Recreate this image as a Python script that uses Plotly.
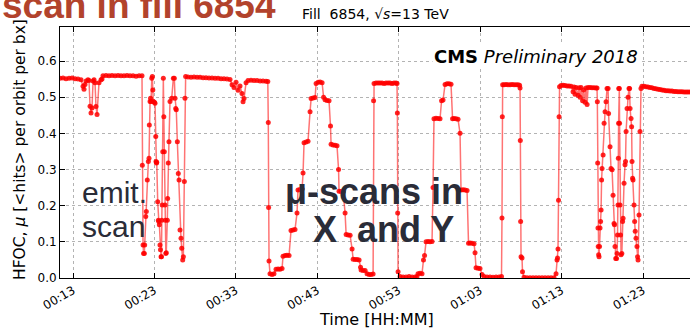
import plotly.graph_objects as go

# HFOC per-bunch pileup during fill 6854; time in minutes after 00:00
stable1_t = [11.40, 11.77, 12.14, 12.51, 12.88, 13.25, 13.61, 13.98, 14.23, 14.35,
             14.47, 14.60, 14.84, 14.96, 15.09, 15.21, 15.33, 15.46, 15.58, 15.70,
             15.82, 15.95, 16.19, 16.44, 16.56, 16.68, 17.05, 17.42, 17.79, 18.16,
             18.53, 18.89, 19.26, 19.63, 20.00, 20.37, 20.74, 21.11, 21.47]
stable1_mu = [0.552, 0.553, 0.551, 0.552, 0.553, 0.551, 0.550, 0.548, 0.530, 0.522,
              0.535, 0.545, 0.548, 0.546, 0.475, 0.456, 0.470, 0.545, 0.548, 0.540,
              0.474, 0.452, 0.540, 0.548, 0.550, 0.559, 0.560, 0.559, 0.560, 0.559,
              0.560, 0.559, 0.559, 0.560, 0.559, 0.559, 0.558, 0.559, 0.559]

emit1_t = [21.51, 21.60, 21.66, 21.76, 21.80, 21.93, 22.00, 22.12, 22.25, 22.33,
           22.37, 22.46, 22.52, 22.58, 22.67, 22.74, 22.80, 22.86, 23.00, 23.07,
           23.16, 23.19, 23.24, 23.28, 23.40, 23.48, 23.54, 23.60, 23.68, 23.74,
           23.81, 23.86, 23.89, 23.95, 24.02, 24.09, 24.15, 24.21, 24.30, 24.34,
           24.40, 24.45, 24.58, 24.62, 24.70, 24.78, 24.91, 25.12, 25.32, 25.44,
           25.53, 25.61, 25.68, 25.81, 25.93, 26.02, 26.14, 26.26, 26.35, 26.47,
           26.55, 26.67, 26.75, 26.83]
emit1_mu = [0.312, 0.091, 0.068, 0.068, 0.091, 0.170, 0.184, 0.271, 0.322, 0.331,
            0.423, 0.488, 0.497, 0.488, 0.552, 0.557, 0.520, 0.488, 0.486, 0.483,
            0.391, 0.322, 0.318, 0.320, 0.211, 0.160, 0.156, 0.147, 0.091, 0.078,
            0.059, 0.059, 0.160, 0.202, 0.349, 0.552, 0.446, 0.349, 0.202, 0.160,
            0.068, 0.070, 0.160, 0.220, 0.318, 0.377, 0.488, 0.497, 0.552, 0.552,
            0.497, 0.469, 0.465, 0.377, 0.289, 0.271, 0.133, 0.110, 0.082, 0.050,
            0.059, 0.267, 0.497, 0.557]

stable2_t = [27.12, 27.49, 27.86, 28.23, 28.60, 28.97, 29.33, 29.70, 30.07, 30.44,
             30.81, 31.18, 31.54, 31.91, 32.28, 32.53, 32.77, 33.02, 33.26, 33.51,
             33.75, 33.88, 34.00, 34.25, 34.49, 34.86, 35.23, 35.60, 35.97, 36.33,
             36.70, 36.92]
stable2_mu = [0.556, 0.555, 0.556, 0.555, 0.555, 0.554, 0.554, 0.553, 0.553, 0.552,
              0.552, 0.551, 0.551, 0.550, 0.549, 0.534, 0.527, 0.541, 0.519, 0.531,
              0.510, 0.487, 0.496, 0.540, 0.546, 0.547, 0.546, 0.546, 0.545, 0.545,
              0.544, 0.543]

scanx_t = [36.98, 37.02, 37.07, 37.19, 37.44, 37.68, 37.93, 38.18, 38.42, 38.67,
           38.79, 39.04, 39.28, 39.53, 39.77, 40.02, 40.26, 40.51, 40.63, 40.88,
           41.13, 41.25, 41.37, 41.62, 41.86, 42.11, 42.24, 42.48, 42.73, 42.85,
           43.10, 43.34, 43.59, 43.77, 43.95, 44.19, 44.44, 44.62, 44.69, 44.93,
           45.18, 45.42, 45.61, 45.67, 45.92, 46.17, 46.41, 46.54, 46.78, 47.03,
           47.27, 47.40, 47.64, 47.89, 48.13, 48.31, 48.38, 48.62, 48.87, 49.11,
           49.36, 49.60, 49.85]
scanx_mu = [0.430, 0.195, 0.047, 0.012, 0.010, 0.012, 0.024, 0.025, 0.024, 0.026,
            0.060, 0.062, 0.063, 0.062, 0.131, 0.133, 0.134, 0.180, 0.243, 0.245,
            0.246, 0.290, 0.374, 0.376, 0.378, 0.460, 0.496, 0.498, 0.499, 0.538,
            0.541, 0.542, 0.540, 0.500, 0.493, 0.491, 0.490, 0.420, 0.370, 0.368,
            0.367, 0.366, 0.300, 0.240, 0.239, 0.238, 0.180, 0.120, 0.119, 0.118,
            0.080, 0.052, 0.051, 0.051, 0.050, 0.030, 0.022, 0.021, 0.021, 0.012,
            0.010, 0.010, 0.011]

headon_t = [49.91, 49.97, 50.21, 50.46, 50.70, 50.95, 51.20, 51.44, 51.69, 51.93,
            52.18, 52.42, 52.67, 52.79, 52.83, 52.87, 52.92, 53.16, 53.53, 53.90,
            54.27, 54.64, 55.00, 55.24, 55.37, 55.61, 55.86]
headon_mu = [0.490, 0.538, 0.539, 0.539, 0.539, 0.539, 0.538, 0.539, 0.539, 0.539,
             0.538, 0.539, 0.539, 0.538, 0.456, 0.180, 0.017, 0.004, 0.003, 0.003,
             0.004, 0.003, 0.003, 0.004, 0.012, 0.013, 0.012]

scany_t = [56.04, 56.17, 56.35, 56.60, 56.84, 57.09, 57.21, 57.33, 57.58, 57.83,
           58.07, 58.26, 58.44, 58.69, 58.93, 59.18, 59.42, 59.61, 59.79, 60.04,
           60.28, 60.53, 60.65, 60.90, 61.14, 61.39, 61.57, 61.76, 62.00, 62.25,
           62.37, 62.49, 62.74, 62.98, 63.23, 63.47, 63.84, 64.21, 64.58, 64.95,
           65.32, 65.62]
scany_mu = [0.050, 0.062, 0.100, 0.101, 0.100, 0.101, 0.250, 0.440, 0.442, 0.441,
            0.440, 0.490, 0.492, 0.535, 0.537, 0.537, 0.536, 0.440, 0.441, 0.440,
            0.439, 0.400, 0.243, 0.244, 0.243, 0.242, 0.096, 0.097, 0.096, 0.095,
            0.070, 0.028, 0.027, 0.026, 0.010, 0.004, 0.003, 0.003, 0.002, 0.003,
            0.003, 0.004]

headon2_t = [65.68, 65.72, 65.76, 65.93, 66.18, 66.42, 66.67, 66.92, 67.16, 67.41,
             67.65, 67.84, 67.90, 67.93, 67.97, 68.02, 68.14, 68.20, 68.39, 68.75,
             69.12, 69.49, 69.86, 70.23, 70.60, 70.97, 71.34, 71.70, 72.07, 72.32,
             72.44, 72.50, 72.56, 72.62, 72.69, 72.75]
headon2_mu = [0.166, 0.446, 0.534, 0.534, 0.535, 0.534, 0.534, 0.535, 0.534, 0.534,
              0.534, 0.533, 0.525, 0.380, 0.156, 0.059, 0.055, 0.017, 0.002, 0.001,
              0.001, 0.001, 0.001, 0.001, 0.001, 0.001, 0.001, 0.001, 0.001, 0.012,
              0.050, 0.055, 0.080, 0.215, 0.446, 0.529]

stable3_t = [72.93, 73.18, 73.42, 73.67, 73.91, 74.16, 74.41, 74.53, 74.65, 74.78,
             75.02, 75.15, 75.27, 75.39, 75.58, 75.70, 75.88, 76.00, 76.13, 76.25,
             76.50, 76.74, 76.99, 77.23, 77.35]
stable3_mu = [0.532, 0.533, 0.532, 0.531, 0.531, 0.530, 0.515, 0.528, 0.508, 0.527,
              0.505, 0.526, 0.500, 0.527, 0.490, 0.520, 0.486, 0.525, 0.480, 0.527,
              0.527, 0.526, 0.526, 0.525, 0.525]

emit2_t = [77.39, 77.43, 77.47, 77.50, 77.55, 77.60, 77.66, 77.72, 77.79, 77.85,
           77.91, 77.97, 78.10, 78.22, 78.34, 78.46, 78.58, 78.71, 78.77, 78.95,
           79.07, 79.20, 79.32, 79.44, 79.50, 79.56, 79.65, 79.75, 79.81, 79.87,
           79.93, 79.97, 80.00, 80.02, 80.09, 80.12, 80.18, 80.24, 80.30, 80.40,
           80.49, 80.55, 80.67, 80.79, 80.85, 80.92, 81.04, 81.16, 81.28, 81.35,
           81.41, 81.53, 81.60, 81.65, 81.72, 81.77, 81.90, 81.97, 82.04, 82.14,
           82.26, 82.33, 82.39, 82.51, 82.63, 82.75]
emit2_mu = [0.487, 0.318, 0.138, 0.087, 0.064, 0.059, 0.087, 0.138, 0.156, 0.188,
            0.271, 0.303, 0.340, 0.428, 0.460, 0.487, 0.524, 0.524, 0.455, 0.363,
            0.303, 0.299, 0.229, 0.151, 0.147, 0.087, 0.054, 0.054, 0.068, 0.119,
            0.202, 0.331, 0.428, 0.524, 0.524, 0.428, 0.202, 0.119, 0.064, 0.068,
            0.156, 0.165, 0.262, 0.313, 0.322, 0.405, 0.469, 0.500, 0.524, 0.524,
            0.469, 0.441, 0.418, 0.322, 0.276, 0.271, 0.202, 0.156, 0.129, 0.110,
            0.087, 0.059, 0.050, 0.174, 0.405, 0.524]

stable4_t = [82.87, 83.12, 83.36, 83.61, 83.85, 84.10, 84.35, 84.59, 84.84, 85.08,
             85.33, 85.58, 85.82, 86.07, 86.31, 86.56, 86.81, 87.05, 87.30, 87.54,
             87.79, 88.03, 88.28, 88.52, 88.77, 89.01]
stable4_mu = [0.530, 0.530, 0.529, 0.528, 0.527, 0.526, 0.524, 0.523, 0.522, 0.521,
              0.520, 0.519, 0.518, 0.518, 0.517, 0.517, 0.516, 0.516, 0.515, 0.515,
              0.515, 0.514, 0.514, 0.514, 0.514, 0.514]

tick_min = [13, 23, 33, 43, 53, 63, 73, 83]
tick_text = ["00:13", "00:23", "00:33", "00:43", "00:53", "01:03", "01:13", "01:23"]
y_ticks = [0.0, 0.1, 0.2, 0.3, 0.4, 0.5, 0.6]

t_min = (stable1_t + emit1_t + stable2_t + scanx_t + headon_t + scany_t
         + headon2_t + stable3_t + emit2_t + stable4_t)
mu = (stable1_mu + emit1_mu + stable2_mu + scanx_mu + headon_mu + scany_mu
      + headon2_mu + stable3_mu + emit2_mu + stable4_mu)

X0, X1 = 11.40, 88.77
Y0, Y1 = 0.0, 0.694

fig = go.Figure()
fig.add_trace(go.Scatter(
    x=t_min, y=mu, mode="lines+markers",
    line=dict(color="rgba(255,0,0,0.55)", width=1.5),
    marker=dict(color="rgba(255,0,0,0.85)", size=5, line=dict(width=0)),
    hoverinfo="skip",
))

grid = dict(showgrid=True, gridcolor="#b3b3b3", griddash="dot", gridwidth=1,
            zeroline=False, showline=True, linecolor="black", linewidth=1,
            ticks="inside", ticklen=5, tickcolor="black",
            tickfont=dict(family="DejaVu Sans", size=12, color="black"))

fig.update_layout(
    width=690, height=330,
    margin=dict(l=60, r=0, t=27, b=52),
    paper_bgcolor="white", plot_bgcolor="white",
    showlegend=False,
    font=dict(family="DejaVu Sans", size=12, color="black"),
    xaxis=dict(range=[X0, X1], tickvals=tick_min, ticktext=tick_text,
               tickangle=-30, mirror="ticks", **grid),
    yaxis=dict(range=[Y0, Y1], tickvals=y_ticks, tickformat=".1f",
               mirror=False, **grid),
)

dark = "#2a2c38"
notes = [
    # header text of the slide, running off the top edge
    dict(text="<b>scan in fill 6854</b>", x=-0.0952, y=1.084, xanchor="left", yanchor="middle",
         font=dict(family="Liberation Sans", size=37, color="#b2432c")),
    dict(text="Fill\u00a0\u00a06854, \u221a<i>s</i>=13 TeV", x=0.5, y=1.052,
         xanchor="center", yanchor="middle",
         font=dict(family="DejaVu Sans", size=14, color="black")),
    dict(text="<b>CMS</b> <i>Preliminary 2018</i>", x=0.7556, y=0.8805,
         xanchor="center", yanchor="middle", bgcolor="white",
         font=dict(family="DejaVu Sans", size=18, color="black")),
    dict(text="emit.", x=0.0317, y=0.3426, xanchor="left", yanchor="middle",
         font=dict(family="Liberation Sans", size=30, color=dark)),
    dict(text="scan", x=0.0317, y=0.2032, xanchor="left", yanchor="middle",
         font=dict(family="Liberation Sans", size=30, color=dark)),
    dict(text="<b>\u03bc-scans in</b>", x=0.4984, y=0.345, xanchor="center", yanchor="middle",
         font=dict(family="Liberation Sans", size=36, color=dark)),
    dict(text="<b>X\u00a0 and Y</b>", x=0.5127, y=0.194, xanchor="center", yanchor="middle",
         font=dict(family="Liberation Sans", size=36, color=dark)),
    dict(text="HFOC, <i>\u03bc</i> [&lt;hits&gt; per orbit per bx]", x=-0.0635, y=0.514,
         xanchor="center", yanchor="middle", textangle=-90,
         font=dict(family="DejaVu Sans", size=15.5, color="black")),
    dict(text="Time [HH:MM]", x=0.503, y=-0.167, xanchor="center", yanchor="middle",
         font=dict(family="DejaVu Sans", size=16, color="black")),
]
for n in notes:
    fig.add_annotation(xref="paper", yref="paper", showarrow=False, **n)

fig.write_html("out.html")
